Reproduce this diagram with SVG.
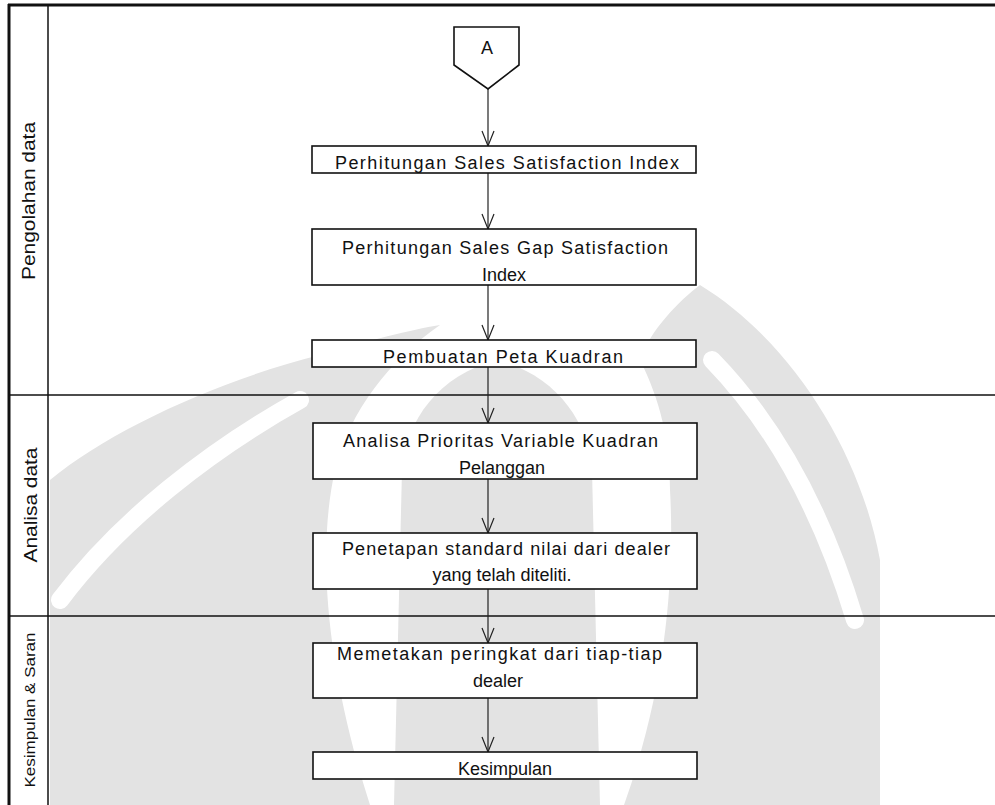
<svg xmlns="http://www.w3.org/2000/svg" width="995" height="805" viewBox="0 0 995 805">
<style>
.box{fill:#fff;stroke:#111;stroke-width:1.6}
.t{font-family:"Liberation Sans",Arial,sans-serif;font-size:18px;fill:#111}
.m{text-anchor:middle}
.lane{font-family:"Liberation Sans",Arial,sans-serif;fill:#111;text-anchor:middle}
.ln{stroke:#111;fill:none}
.c{stroke:#222;stroke-width:1.2;fill:none}
.wm{fill:#e3e3e3}
.wb{fill:none;stroke:#fff;stroke-width:18;stroke-linecap:round}
</style>
<defs>
<marker id="ah" markerWidth="18" markerHeight="14" refX="16" refY="7" orient="auto" markerUnits="userSpaceOnUse" viewBox="0 0 18 14">
<path d="M1,1 L16,7 L1,13" fill="none" stroke="#222" stroke-width="1.2"/>
</marker>
</defs>
<rect width="995" height="805" fill="#fff"/>
<g id="watermark">
<path class="wm" d="M50,805 L50,480 C110,430 220,380 320,355 C370,340 410,330 440,325 C390,360 350,410 335,470 C315,560 330,680 370,805 Z"/>
<path class="wm" d="M497,360 C555,375 588,420 592,470 L600,805 L394,805 L402,470 C406,420 439,375 497,360 Z"/>
<path class="wm" d="M880,805 L880,560 C860,450 790,340 700,285 C680,300 650,330 640,360 C660,400 670,440 670,490 C675,580 665,690 624,805 Z"/>
<path class="wb" d="M300,400 C210,450 120,520 60,600"/>
<path class="wb" d="M712,360 C780,430 825,520 855,620"/>
</g>
<g id="frame">
<line class="ln" x1="8" y1="5" x2="995" y2="5" stroke-width="3"/>
<line class="ln" x1="9" y1="4" x2="9" y2="805" stroke-width="3"/>
<line class="ln" x1="48" y1="5" x2="48" y2="805" stroke-width="1.5"/>
<line class="ln" x1="9" y1="395" x2="995" y2="395" stroke-width="1.5"/>
<line class="ln" x1="9" y1="616" x2="995" y2="616" stroke-width="1.6"/>
</g>
<g id="lane-pengolahan"><text class="lane" font-size="19" transform="translate(35,201) rotate(-90)" textLength="158" lengthAdjust="spacingAndGlyphs">Pengolahan data</text></g>
<g id="lane-analisa"><text class="lane" font-size="18" transform="translate(37,505) rotate(-90)" textLength="115" lengthAdjust="spacingAndGlyphs">Analisa data</text></g>
<g id="lane-kesimpulan"><text class="lane" font-size="14.5" transform="translate(35,710) rotate(-90)" textLength="155" lengthAdjust="spacingAndGlyphs">Kesimpulan &amp; Saran</text></g>
<g id="connectors">
<line class="c" x1="488" y1="89" x2="488" y2="146" marker-end="url(#ah)"/>
<line class="c" x1="488" y1="173" x2="488" y2="229" marker-end="url(#ah)"/>
<line class="c" x1="488" y1="285" x2="488" y2="340" marker-end="url(#ah)"/>
<line class="c" x1="488" y1="367" x2="488" y2="423" marker-end="url(#ah)"/>
<line class="c" x1="488" y1="479" x2="488" y2="533" marker-end="url(#ah)"/>
<line class="c" x1="488" y1="589" x2="488" y2="643" marker-end="url(#ah)"/>
<line class="c" x1="488" y1="698" x2="488" y2="752" marker-end="url(#ah)"/>
</g>
<g id="node-A">
<path class="box" d="M454,27 L519,27 L519,65 L488,89 L454,65 Z"/>
<text class="t m" x="487" y="54">A</text>
</g>
<g id="node-1">
<rect class="box" x="312" y="146" width="384" height="27"/>
<text class="t" x="335" y="169" textLength="344" lengthAdjust="spacing">Perhitungan Sales Satisfaction Index</text>
</g>
<g id="node-2">
<rect class="box" x="312" y="229" width="384" height="56"/>
<text class="t" x="342" y="254" textLength="326" lengthAdjust="spacing">Perhitungan Sales Gap Satisfaction</text>
<text class="t m" x="504" y="281">Index</text>
</g>
<g id="node-3">
<rect class="box" x="312" y="340" width="384" height="27"/>
<text class="t" x="383" y="363" textLength="240" lengthAdjust="spacing">Pembuatan Peta Kuadran</text>
</g>
<g id="node-4">
<rect class="box" x="313" y="423" width="384" height="56"/>
<text class="t" x="343" y="447" textLength="315" lengthAdjust="spacing">Analisa Prioritas Variable Kuadran</text>
<text class="t m" x="502" y="474">Pelanggan</text>
</g>
<g id="node-5">
<rect class="box" x="313" y="533" width="384" height="56"/>
<text class="t" x="342" y="555" textLength="328" lengthAdjust="spacing">Penetapan standard nilai dari dealer</text>
<text class="t m" x="502" y="581">yang telah diteliti.</text>
</g>
<g id="node-6">
<rect class="box" x="313" y="643" width="384" height="55"/>
<text class="t" x="337" y="660" textLength="325" lengthAdjust="spacing">Memetakan peringkat dari tiap-tiap</text>
<text class="t m" x="498" y="687">dealer</text>
</g>
<g id="node-7">
<rect class="box" x="313" y="752" width="384" height="27"/>
<text class="t m" x="505" y="775">Kesimpulan</text>
</g>
</svg>
